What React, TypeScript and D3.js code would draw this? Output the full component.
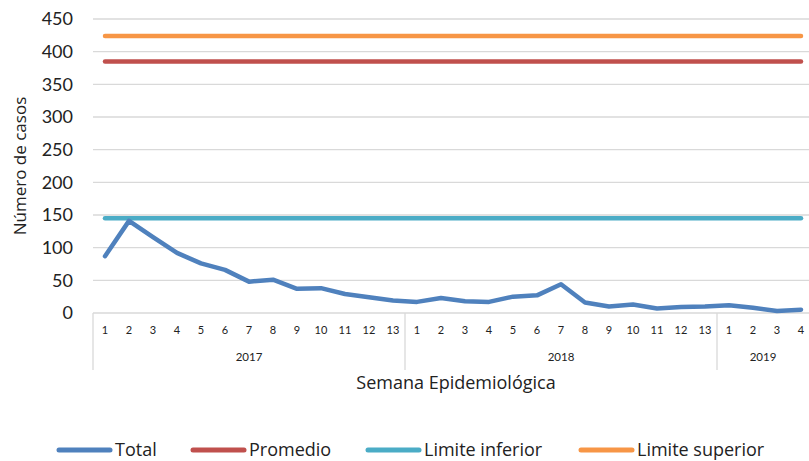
import { useEffect, useRef } from "react";
import * as d3 from "d3";

// semanas epidemiológicas (eje de categorías de dos niveles)
const weekLabels = ["1", "2", "3", "4", "5", "6", "7", "8", "9", "10", "11", "12", "13",
  "1", "2", "3", "4", "5", "6", "7", "8", "9", "10", "11", "12", "13",
  "1", "2", "3", "4"];
const yearLabels = ["2017", "2018", "2019"];
const yearSpans = [13, 13, 4];

// casos totales por semana
const total = [87, 141, 116, 92, 76, 66, 48, 51, 37, 38, 29, 24, 19,
  17, 23, 18, 17, 25, 27, 44, 16, 10, 13, 7, 9, 10,
  12, 8, 3, 5];

// canal endémico
const promedio = 385;
const limiteInferior = 145;
const limiteSuperior = 424;

const yTicks = [0, 50, 100, 150, 200, 250, 300, 350, 400, 450];

const series = [
  { name: "Total", color: "#4F81BD" },
  { name: "Promedio", color: "#C0504D" },
  { name: "Limite inferior", color: "#4BACC6" },
  { name: "Limite superior", color: "#F79646" },
];

const FONT = "'Open Sans', sans-serif";
const NUMFONT = "Lato, 'Open Sans', sans-serif";

export default function App() {
  const svgRef = useRef<SVGSVGElement>(null);

  useEffect(() => {
    const width = 809, height = 461;
    const svg = d3.select(svgRef.current).attr("width", width).attr("height", height);
    svg.selectAll("*").remove();

    const left = 93, right = 813, top = 19, bottom = 313;
    const idx = weekLabels.map((_, i) => i);

    const x = d3.scaleBand<number>().domain(idx).range([left, right]);
    const cx = (i: number) => (x(i) as number) + x.bandwidth() / 2;
    const y = d3.scaleLinear().domain([0, 450]).range([bottom, top]);

    // rejilla
    svg.append("g")
      .selectAll("line")
      .data(yTicks)
      .enter()
      .append("line")
      .attr("x1", left)
      .attr("x2", right)
      .attr("y1", (d) => y(d))
      .attr("y2", (d) => y(d))
      .attr("stroke", "#D9D9D9")
      .attr("stroke-width", 1.3);

    // etiquetas eje Y
    svg.append("g")
      .selectAll("text")
      .data(yTicks)
      .enter()
      .append("text")
      .attr("x", 73)
      .attr("y", (d) => y(d))
      .attr("dy", "0.35em")
      .attr("text-anchor", "end")
      .attr("font-family", NUMFONT)
      .attr("font-size", 18)
      .attr("fill", "#222")
      .text((d) => d);

    // eje X: semanas
    svg.append("g")
      .selectAll("text")
      .data(weekLabels)
      .enter()
      .append("text")
      .attr("x", (_, i) => cx(i))
      .attr("y", 330)
      .attr("dy", "0.35em")
      .attr("text-anchor", "middle")
      .attr("font-family", NUMFONT)
      .attr("font-size", 11)
      .attr("fill", "#222")
      .text((d) => d);

    // eje X: años y separadores
    let start = 0;
    const bounds = [0];
    yearSpans.forEach((n, k) => {
      const x0 = x(start) as number;
      const x1 = Math.min((x(start + n - 1) as number) + x.bandwidth(), width);
      svg.append("text")
        .attr("x", (x0 + x1) / 2)
        .attr("y", 357)
        .attr("dy", "0.35em")
        .attr("text-anchor", "middle")
        .attr("font-family", NUMFONT)
        .attr("font-size", 11.5)
        .attr("fill", "#222")
        .text(yearLabels[k]);
      start += n;
      bounds.push(start);
    });
    svg.append("g")
      .selectAll("line")
      .data(bounds.slice(0, -1))
      .enter()
      .append("line")
      .attr("x1", (d) => x(d) as number)
      .attr("x2", (d) => x(d) as number)
      .attr("y1", bottom)
      .attr("y2", 370)
      .attr("stroke", "#D9D9D9")
      .attr("stroke-width", 1.3);

    // títulos de ejes
    svg.append("text")
      .attr("transform", `translate(20, 166) rotate(-90)`)
      .attr("dy", "0.35em")
      .attr("text-anchor", "middle")
      .attr("font-family", FONT)
      .attr("font-size", 17)
      .attr("fill", "#222")
      .text("Número de casos");

    svg.append("text")
      .attr("x", 456)
      .attr("y", 383)
      .attr("dy", "0.35em")
      .attr("text-anchor", "middle")
      .attr("font-family", FONT)
      .attr("font-size", 18)
      .attr("fill", "#222")
      .text("Semana Epidemiológica");

    // líneas horizontales del canal endémico
    const first = cx(0), last = cx(idx.length - 1);
    [
      { v: limiteSuperior, c: series[3].color },
      { v: promedio, c: series[1].color },
      { v: limiteInferior, c: series[2].color },
    ].forEach((l) => {
      svg.append("line")
        .attr("x1", first)
        .attr("x2", last)
        .attr("y1", y(l.v))
        .attr("y2", y(l.v))
        .attr("stroke", l.c)
        .attr("stroke-width", 4.5)
        .attr("stroke-linecap", "round");
    });

    // total
    const line = d3.line<number>()
      .x((_, i) => cx(i))
      .y((d) => y(d));
    svg.append("path")
      .datum(total)
      .attr("d", line)
      .attr("fill", "none")
      .attr("stroke", series[0].color)
      .attr("stroke-width", 4.5)
      .attr("stroke-linejoin", "round")
      .attr("stroke-linecap", "round");

    // leyenda
    const legendX = [57, 191, 366, 579];
    const lg = svg.append("g")
      .selectAll("g")
      .data(series)
      .enter()
      .append("g")
      .attr("transform", (_, i) => `translate(${legendX[i]}, 450)`);
    lg.append("line")
      .attr("x1", 2)
      .attr("x2", 53)
      .attr("stroke", (d) => d.color)
      .attr("stroke-width", 5)
      .attr("stroke-linecap", "round");
    lg.append("text")
      .attr("x", 58)
      .attr("dy", "0.35em")
      .attr("font-family", FONT)
      .attr("font-size", 18)
      .attr("fill", "#222")
      .text((d) => d.name);
  }, []);

  return (
    <div style={{ position: "absolute", left: 0, top: 0 }}>
      <svg ref={svgRef} style={{ display: "block" }}></svg>
    </div>
  );
}
